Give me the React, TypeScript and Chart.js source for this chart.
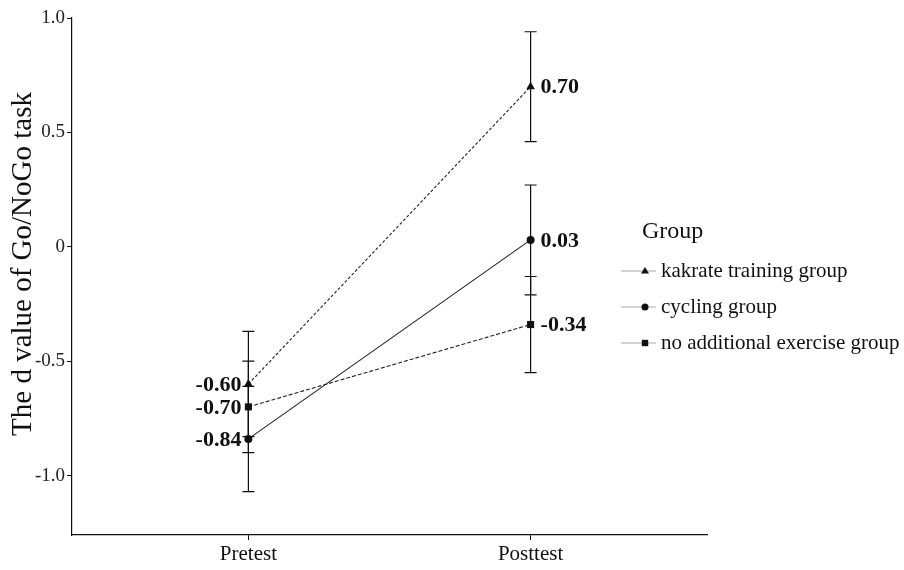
import React, { useEffect, useRef } from "react";
import { Chart, registerables } from "chart.js";

Chart.register(...registerables);

const categories = ["Pretest", "Posttest"];
const groupNames = ["kakrate training group", "cycling group", "no additional exercise group"];
const yAxisTitle = "The d value of Go/NoGo task";
const legendTitle = "Group";

const kakrateMean = [-0.6, 0.7];
const kakrateLow = [-0.83, 0.46];
const kakrateHigh = [-0.37, 0.94];

const cyclingMean = [-0.84, 0.03];
const cyclingLow = [-1.07, -0.21];
const cyclingHigh = [-0.61, 0.27];

const noExerciseMean = [-0.7, -0.34];
const noExerciseLow = [-0.9, -0.55];
const noExerciseHigh = [-0.5, -0.13];

const yTickValues = [-1.0, -0.5, 0, 0.5, 1.0];

const lows = [kakrateLow, cyclingLow, noExerciseLow];
const highs = [kakrateHigh, cyclingHigh, noExerciseHigh];
const means = [kakrateMean, cyclingMean, noExerciseMean];
const pointStyles = ["triangle", "circle", "rect"];
const pointRadii = [5, 4, 5];
const dashes = [[3, 2], [], [4, 2]];

const FONT = "'Liberation Serif', 'Times New Roman', serif";
const INK = "#111";

function drawMarker(ctx: CanvasRenderingContext2D, style: string, x: number, y: number, r: number) {
  ctx.beginPath();
  if (style === "circle") {
    ctx.arc(x, y, r, 0, Math.PI * 2);
  } else if (style === "rect") {
    ctx.rect(x - r * 0.8, y - r * 0.8, r * 1.6, r * 1.6);
  } else {
    ctx.moveTo(x, y - r);
    ctx.lineTo(x + r, y + r * 0.6);
    ctx.lineTo(x - r, y + r * 0.6);
    ctx.closePath();
  }
  ctx.fill();
}

const errorBarPlugin = {
  id: "errorBars",
  beforeDatasetsDraw(chart: any) {
    const { ctx } = chart;
    const xs = chart.scales.x;
    const ys = chart.scales.y;
    ctx.save();
    ctx.strokeStyle = INK;
    ctx.lineWidth = 1.2;
    ctx.setLineDash([]);
    for (let i = 0; i < lows.length; i++) {
      for (let j = 0; j < categories.length; j++) {
        const x = xs.getPixelForValue(j);
        const yl = ys.getPixelForValue(lows[i][j]);
        const yh = ys.getPixelForValue(highs[i][j]);
        ctx.beginPath();
        ctx.moveTo(x, yl);
        ctx.lineTo(x, yh);
        ctx.moveTo(x - 6, yl);
        ctx.lineTo(x + 6, yl);
        ctx.moveTo(x - 6, yh);
        ctx.lineTo(x + 6, yh);
        ctx.stroke();
      }
    }
    ctx.restore();
  },
};

const labelPlugin = {
  id: "valueLabels",
  afterDatasetsDraw(chart: any) {
    const { ctx } = chart;
    ctx.save();
    ctx.font = `bold 22px ${FONT}`;
    ctx.fillStyle = INK;
    ctx.textBaseline = "middle";
    chart.data.datasets.forEach((ds: any, i: number) => {
      const meta = chart.getDatasetMeta(i);
      meta.data.forEach((pt: any, j: number) => {
        const v = ds.data[j].y;
        const txt = v.toFixed(2);
        if (j === 0) {
          ctx.textAlign = "right";
          ctx.fillText(txt, pt.x - 7, pt.y + 1);
        } else {
          ctx.textAlign = "left";
          ctx.fillText(txt, pt.x + 10, pt.y + 1);
        }
      });
    });
    ctx.restore();
  },
};

const legendPlugin = {
  id: "customLegend",
  afterDraw(chart: any) {
    const { ctx } = chart;
    ctx.save();
    // y-axis title
    ctx.fillStyle = INK;
    ctx.font = `29px ${FONT}`;
    ctx.textAlign = "center";
    ctx.textBaseline = "middle";
    ctx.translate(23, 264);
    ctx.rotate(-Math.PI / 2);
    ctx.fillText(yAxisTitle, 0, 0);
    ctx.setTransform(1, 0, 0, 1, 0, 0);

    ctx.textBaseline = "middle";
    ctx.textAlign = "left";
    ctx.font = `24px ${FONT}`;
    ctx.fillText(legendTitle, 642, 232);
    const ys = [271, 307, 343];
    groupNames.forEach((name, i) => {
      const y = ys[i];
      ctx.strokeStyle = "#aaa";
      ctx.lineWidth = 1;
      ctx.setLineDash([]);
      ctx.beginPath();
      ctx.moveTo(621, y);
      ctx.lineTo(656, y);
      ctx.stroke();
      ctx.fillStyle = INK;
      drawMarker(ctx, pointStyles[i], 645, y, i === 1 ? 3.5 : 4);
      ctx.font = `21px ${FONT}`;
      ctx.fillStyle = INK;
      ctx.fillText(name, 661, y);
    });
    ctx.restore();
  },
};

export default function App() {
  const ref = useRef<HTMLCanvasElement | null>(null);

  useEffect(() => {
    if (!ref.current) return;
    const datasets = means.map((m, i) => ({
      label: groupNames[i],
      data: m.map((v, j) => ({ x: j, y: v })),
      borderColor: "#222",
      backgroundColor: "#111",
      borderWidth: 1.1,
      borderDash: dashes[i],
      pointStyle: pointStyles[i],
      pointRadius: pointRadii[i],
      pointBorderWidth: 0,
      pointBackgroundColor: "#111",
      showLine: true,
      tension: 0,
    }));

    const chart = new Chart(ref.current, {
      type: "scatter",
      data: { datasets } as any,
      options: {
        animation: false,
        responsive: false,
        devicePixelRatio: 1,
        layout: { padding: { top: 18, right: 197, left: 0, bottom: 0 } },
        plugins: {
          legend: { display: false },
          tooltip: { enabled: false },
        },
        scales: {
          x: {
            type: "linear",
            min: -0.625,
            max: 1.625,
            grid: { drawOnChartArea: false, drawTicks: true, tickLength: 5, color: INK },
            border: { display: true, color: INK, width: 1.2 },
            ticks: {
              color: INK,
              font: { family: FONT, size: 21 },
              padding: 2,
              callback: (v: any) => categories[v] ?? "",
            },
            afterBuildTicks: (scale: any) => {
              scale.ticks = categories.map((_, i) => ({ value: i }));
            },
            afterFit: (scale: any) => {
              scale.height = 35;
            },
          },
          y: {
            type: "linear",
            min: -1.26,
            max: 1.0,
            grid: { drawOnChartArea: false, drawTicks: true, tickLength: 5, color: INK },
            border: { display: true, color: INK, width: 1.2 },
            ticks: {
              color: "#222",
              font: { family: FONT, size: 19 },
              padding: 2,
              callback: (v: any) => (v === 0 ? "0" : Number(v).toFixed(1)),
            },
            afterBuildTicks: (scale: any) => {
              scale.ticks = yTickValues.map((v) => ({ value: v }));
            },
            afterFit: (scale: any) => {
              scale.width = 72;
            },
          },
        },
      } as any,
      plugins: [errorBarPlugin, labelPlugin, legendPlugin],
    });
    return () => chart.destroy();
  }, []);

  return (
    <div style={{ position: "fixed", left: 0, top: 0, width: 904, height: 570, background: "#fff" }}>
      <canvas ref={ref} width={904} height={570} style={{ width: 904, height: 570, display: "block" }} />
    </div>
  );
}
